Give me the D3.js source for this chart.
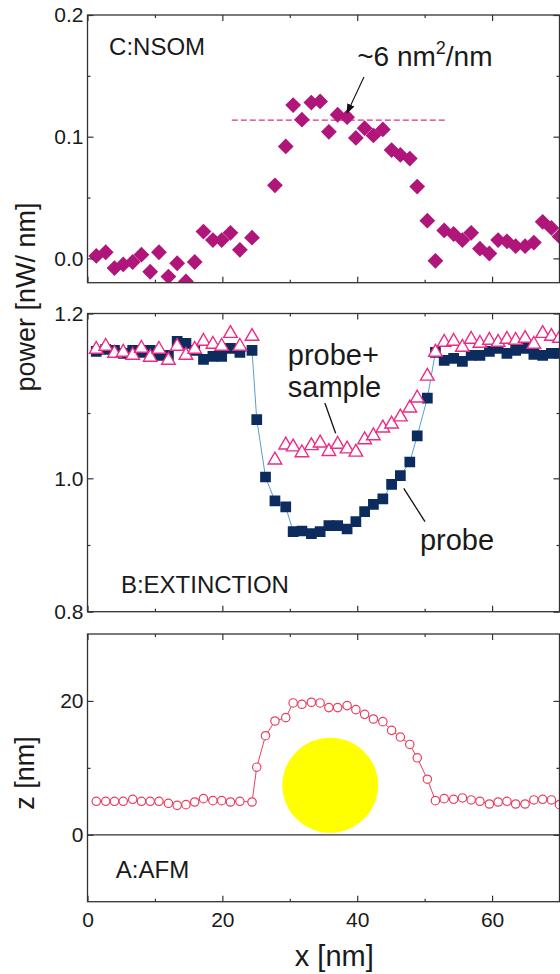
<!DOCTYPE html>
<html lang="en">
<head>
<meta charset="utf-8">
<title>NSOM / extinction / AFM line scans</title>
<script src="https://cdn.jsdelivr.net/npm/d3@7"></script>
<style>
  body { margin: 0; background: #fff; }
  svg { display: block; font-family: "Liberation Sans", Arial, sans-serif; }
  .tick text { font-size: 21px; fill: #1a1a1a; }
  .tick line { stroke: #333; stroke-width: 1.2; }
  .frame { fill: none; stroke: #333; stroke-width: 1.3; }
  .lbl { fill: #1a1a1a; }
</style>
</head>
<body>
<svg width="560" height="974"></svg>
<script>
// scan positions (nm), shared by the three panels
var xs = [1.3, 2.7, 4.0, 5.3, 6.7, 8.0, 9.3, 10.6, 12.0, 13.3,
          14.6, 15.9, 17.2, 18.6, 19.9, 21.2, 22.6, 24.4, 25.1, 26.4,
          27.8, 29.4, 30.5, 31.8, 33.2, 34.5, 35.8, 37.1, 38.5, 39.8,
          41.1, 42.4, 43.8, 45.1, 46.4, 47.8, 48.9, 50.4, 51.6, 52.9,
          54.3, 55.6, 56.9, 58.2, 59.6, 60.9, 62.2, 63.5, 64.9, 66.2,
          67.5, 68.8, 70.0];

// C: NSOM power (nW/nm)
var nsom = [0.002, 0.005, -0.008, -0.005, -0.003, 0.003, -0.011, 0.005, -0.015, -0.004,
            -0.019, -0.003, 0.022, 0.015, 0.015, 0.021, 0.007, 0.017, null, null,
            0.060, 0.092, 0.126, 0.114, 0.128, 0.129, 0.104, 0.118, 0.116, 0.099,
            0.107, 0.101, 0.106, 0.089, 0.085, 0.082, 0.059, 0.031, -0.002, 0.023,
            0.020, 0.015, 0.021, 0.008, 0.004, 0.015, 0.014, 0.010, 0.010, 0.013,
            0.030, 0.025, 0.018];
var nsomMean = 0.1136;
var nsomMeanFrom = 21.4, nsomMeanTo = 53.3;

// B: extinction, probe alone and probe + sample
var probe = [1.162, 1.164, 1.163, 1.160, 1.163, 1.161, 1.163, 1.158, 1.158, 1.172,
             1.170, 1.163, 1.154, 1.157, 1.157, 1.165, 1.161, 1.163, 1.090, 1.002,
             0.966, 0.957, 0.920, 0.921, 0.917, 0.920, 0.929, 0.929, 0.924, 0.935,
             0.950, 0.961, 0.969, 0.991, 1.004, 1.025, 1.065, 1.115, 1.161, 1.153,
             1.155, 1.152, 1.158, 1.158, 1.162, 1.165, 1.160, 1.163, 1.165, 1.159,
             1.158, 1.160, 1.160];
var probeSample = [1.164, 1.167, 1.160, 1.161, 1.158, 1.165, 1.156, 1.164, 1.153, 1.167,
                   1.158, 1.164, 1.172, 1.169, 1.167, 1.180, 1.167, 1.177, null, null,
                   1.028, 1.051, 1.048, 1.039, 1.050, 1.054, 1.041, 1.052, 1.045, 1.040,
                   1.059, 1.065, 1.077, 1.083, 1.094, 1.105, 1.115, 1.137, 1.161, 1.171,
                   1.172, 1.166, 1.174, 1.170, 1.173, 1.171, 1.174, 1.173, 1.175, 1.169,
                   1.180, 1.177, 1.175];

// A: AFM height (nm)
var afm = [5.0, 5.0, 5.0, 5.0, 5.3, 5.0, 5.0, 5.0, 4.7, 4.4,
           4.5, 4.9, 5.4, 5.1, 5.1, 4.9, 5.0, 4.9, 10.1, 14.8,
           17.0, 17.5, 19.7, 19.5, 19.8, 19.7, 19.0, 19.0, 19.3, 18.7,
           18.0, 17.3, 16.9, 15.6, 14.6, 13.5, 11.5, 8.3, 5.1, 5.4,
           5.3, 5.5, 5.2, 5.0, 4.6, 4.9, 5.0, 4.6, 4.6, 5.2,
           5.3, 5.2, 4.5];
var particle = {x: 36, z: 7.4, r: 7.1};

var xMajor = [0, 20, 40, 60], xMinor = [10, 30, 50];
var cMajor = [0.0, 0.1, 0.2], cMinor = [0.05, 0.15];
var bMajor = [0.8, 1.0, 1.2], bMinor = [0.9, 1.1];
var aMajor = [0, 20], aMinor = [10];

var svg = d3.select("svg");
var left = 87.5, right = 559.5;
var x = d3.scaleLinear().domain([0, 70]).range([left, right]);

var pC = {top: 15, bottom: 282.7};
var pB = {top: 313.5, bottom: 611.7};
var pA = {top: 634, bottom: 901.7};

var yC = d3.scaleLinear().domain([-0.02, 0.2]).range([pC.bottom, pC.top]);
// the printed extinction axis is not evenly spaced, so it is piecewise
var hB = pB.bottom - pB.top;
var yB = d3.scaleLinear().domain([0.8, 0.9, 1.0, 1.1, 1.2])
  .range([pB.bottom, pB.bottom - 0.2237 * hB, pB.bottom - 0.4473 * hB, pB.bottom - 0.6663 * hB, pB.top]);
var yA = d3.scaleLinear().domain([-10, 30]).range([pA.bottom, pA.top]);

function axes(p, y, major, minor, fmt, xLabels) {
  var g = svg.append("g");
  function add(axis, t) {
    var a = g.append("g").attr("transform", t).call(axis);
    a.select(".domain").remove();
    return a;
  }
  add(d3.axisBottom(x).tickValues(xMajor).tickSizeInner(-6).tickSizeOuter(0).tickPadding(10)
      .tickFormat(xLabels ? d3.format("d") : ""), "translate(0," + p.bottom + ")");
  add(d3.axisBottom(x).tickValues(xMinor).tickSizeInner(-3).tickFormat(""), "translate(0," + p.bottom + ")");
  add(d3.axisTop(x).tickValues(xMajor).tickSizeInner(-6).tickFormat(""), "translate(0," + p.top + ")");
  add(d3.axisTop(x).tickValues(xMinor).tickSizeInner(-3).tickFormat(""), "translate(0," + p.top + ")");
  add(d3.axisLeft(y).tickValues(major).tickSizeInner(-6).tickPadding(4).tickFormat(fmt), "translate(" + left + ",0)");
  add(d3.axisLeft(y).tickValues(minor).tickSizeInner(-3).tickFormat(""), "translate(" + left + ",0)");
  add(d3.axisRight(y).tickValues(major).tickSizeInner(-6).tickFormat(""), "translate(" + right + ",0)");
  add(d3.axisRight(y).tickValues(minor).tickSizeInner(-3).tickFormat(""), "translate(" + right + ",0)");
  svg.append("rect").attr("class", "frame")
    .attr("x", left).attr("y", p.top)
    .attr("width", right - left).attr("height", p.bottom - p.top);
}

function clip(id, p) {
  svg.append("clipPath").attr("id", id).append("rect")
    .attr("x", left).attr("y", p.top).attr("width", right - left).attr("height", p.bottom - p.top);
  return svg.append("g").attr("clip-path", "url(#" + id + ")");
}

function pts(vals) {
  return xs.map(function(v, i) { return {x: v, y: vals[i]}; })
    .filter(function(d) { return d.y !== null; });
}

// ---- panel C: NSOM ----
var gC = clip("cC", pC);
gC.append("line")
  .attr("x1", x(nsomMeanFrom)).attr("x2", x(nsomMeanTo))
  .attr("y1", yC(nsomMean)).attr("y2", yC(nsomMean))
  .attr("stroke", "#e0307f").attr("stroke-width", 1.3).attr("stroke-dasharray", "6,3");
gC.selectAll(".dia").data(pts(nsom)).enter().append("path")
  .attr("d", d3.symbol().type(d3.symbolSquare).size(125))
  .attr("transform", function(d) { return "translate(" + x(d.x) + "," + yC(d.y) + ") rotate(45)"; })
  .attr("fill", "#b0157a");
axes(pC, yC, cMajor, cMinor, d3.format(".1f"), false);

svg.append("text").attr("class", "lbl").attr("x", x(3.2)).attr("y", yC(0.167))
  .attr("font-size", 24).text("C:NSOM");
var ann = svg.append("text").attr("class", "lbl").attr("x", x(40.0)).attr("y", yC(0.158))
  .attr("font-size", 28);
ann.append("tspan").text("~6 nm");
ann.append("tspan").attr("font-size", 18).attr("dy", -12).text("2");
ann.append("tspan").attr("dy", 12).text("/nm");

svg.append("defs").append("marker").attr("id", "ah")
  .attr("viewBox", "0 0 10 10").attr("refX", 9).attr("refY", 5)
  .attr("markerWidth", 9).attr("markerHeight", 9).attr("orient", "auto")
  .append("path").attr("d", "M0,1 L10,5 L0,9 Z").attr("fill", "#111");
svg.append("line")
  .attr("x1", x(41.0)).attr("y1", yC(0.149)).attr("x2", x(38.5)).attr("y2", yC(0.1195))
  .attr("stroke", "#111").attr("stroke-width", 1.1).attr("marker-end", "url(#ah)");

// ---- panel B: extinction ----
var gB = clip("cB", pB);
gB.append("path").datum(pts(probe))
  .attr("fill", "none").attr("stroke", "#5a9bd4").attr("stroke-width", 1)
  .attr("d", d3.line().x(function(d) { return x(d.x); }).y(function(d) { return yB(d.y); }));
gB.selectAll(".sq").data(pts(probe)).enter().append("path")
  .attr("d", d3.symbol().type(d3.symbolSquare).size(115))
  .attr("transform", function(d) { return "translate(" + x(d.x) + "," + yB(d.y) + ")"; })
  .attr("fill", "#0c2b5e");
gB.selectAll(".tri").data(pts(probeSample)).enter().append("path")
  .attr("d", d3.symbol().type(d3.symbolTriangle).size(80))
  .attr("transform", function(d) { return "translate(" + x(d.x) + "," + yB(d.y) + ")"; })
  .attr("fill", "#fff").attr("stroke", "#ee2a84").attr("stroke-width", 1.4);
axes(pB, yB, bMajor, bMinor, d3.format(".1f"), false);

svg.append("text").attr("class", "lbl").attr("x", x(4.95)).attr("y", yB(0.828))
  .attr("font-size", 24).text("B:EXTINCTION");
svg.append("text").attr("class", "lbl").attr("x", x(29.7)).attr("y", yB(1.148))
  .attr("font-size", 29).text("probe+");
svg.append("text").attr("class", "lbl").attr("x", x(29.7)).attr("y", yB(1.116))
  .attr("font-size", 29).text("sample");
svg.append("text").attr("class", "lbl").attr("x", x(49.3)).attr("y", yB(0.8925))
  .attr("font-size", 29).text("probe");
svg.append("line")
  .attr("x1", x(35.2)).attr("y1", yB(1.110)).attr("x2", x(36.8)).attr("y2", yB(1.069))
  .attr("stroke", "#111").attr("stroke-width", 1.3);
svg.append("line")
  .attr("x1", x(50.05)).attr("y1", yB(0.935)).attr("x2", x(46.9)).attr("y2", yB(0.985))
  .attr("stroke", "#111").attr("stroke-width", 1.3);

// ---- panel A: AFM ----
var gA = clip("cA", pA);
gA.append("line")
  .attr("x1", x(0)).attr("x2", x(70)).attr("y1", yA(0)).attr("y2", yA(0))
  .attr("stroke", "#333").attr("stroke-width", 1.2);
gA.append("ellipse")
  .attr("cx", x(particle.x)).attr("cy", yA(particle.z))
  .attr("rx", x(particle.r) - x(0)).attr("ry", yA(0) - yA(particle.r))
  .attr("fill", "#ffff00");
gA.append("path").datum(pts(afm))
  .attr("fill", "none").attr("stroke", "#e8405f").attr("stroke-width", 1)
  .attr("d", d3.line().x(function(d) { return x(d.x); }).y(function(d) { return yA(d.y); }));
gA.selectAll(".ci").data(pts(afm)).enter().append("circle")
  .attr("cx", function(d) { return x(d.x); })
  .attr("cy", function(d) { return yA(d.y); })
  .attr("r", 4.2)
  .attr("fill", "#fff").attr("stroke", "#e8405f").attr("stroke-width", 1.2);
axes(pA, yA, aMajor, aMinor, d3.format("d"), true);

svg.append("text").attr("class", "lbl").attr("x", x(4.2)).attr("y", yA(-6.46))
  .attr("font-size", 24).text("A:AFM");

// axis titles
svg.append("text").attr("class", "lbl").attr("font-size", 27).attr("text-anchor", "middle")
  .attr("transform", "translate(35,297) rotate(-90)").text("power [nW/ nm]");
svg.append("text").attr("class", "lbl").attr("font-size", 27).attr("text-anchor", "middle")
  .attr("transform", "translate(34,773) rotate(-90)").text("z [nm]");
svg.append("text").attr("class", "lbl").attr("font-size", 29).attr("text-anchor", "middle")
  .attr("x", x(36.6)).attr("y", 966).text("x [nm]");
</script>
</body>
</html>
